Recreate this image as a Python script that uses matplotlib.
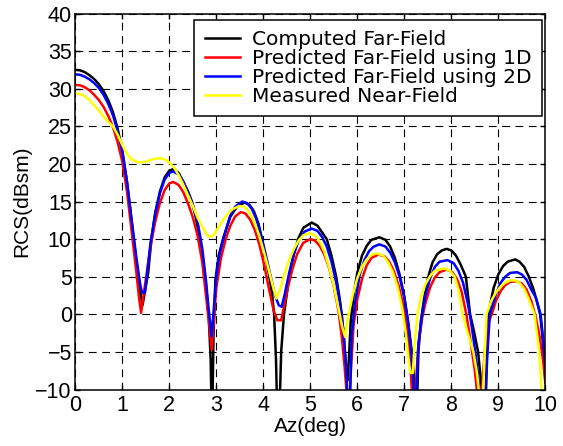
import matplotlib
matplotlib.use("Agg")
import matplotlib.pyplot as plt

plt.rcParams['font.family'] = ['Liberation Sans', 'DejaVu Sans']
plt.rcParams['font.size'] = 15

# ---------------- data ----------------
x_computed = [0, 0.1, 0.2, 0.3, 0.4, 0.5, 0.6, 0.7, 0.8, 0.9, 1.0, 1.1, 1.2, 1.3, 1.38, 1.43,
              1.48, 1.55, 1.62, 1.7, 1.8, 1.9, 2.0, 2.08, 2.2, 2.3, 2.4, 2.48, 2.56, 2.65, 2.72,
              2.78, 2.84, 2.88, 2.91, 2.94, 2.98, 3.05, 3.15, 3.3, 3.45, 3.6, 3.7, 3.8, 3.9, 3.97,
              4.05, 4.13, 4.19, 4.23, 4.27, 4.3, 4.34, 4.38, 4.44, 4.55, 4.65, 4.74, 4.85, 5.03,
              5.15, 5.25, 5.35, 5.45, 5.55, 5.62, 5.67, 5.72, 5.76, 5.79, 5.82, 5.86, 5.92, 6.0,
              6.1, 6.2, 6.3, 6.47, 6.6, 6.7, 6.8, 6.9, 7.0, 7.08, 7.15, 7.2, 7.26, 7.3, 7.35,
              7.42, 7.51, 7.6, 7.7, 7.8, 7.9, 8.0, 8.1, 8.2, 8.31, 8.4, 8.48, 8.57, 8.65, 8.7,
              8.74, 8.76, 8.8, 8.9, 9.0, 9.1, 9.2, 9.36, 9.45, 9.55, 9.65, 9.75, 9.83, 9.89,
              9.94, 9.98, 10.0]
y_computed = [32.5, 32.45, 32.2, 31.8, 31.3, 30.6, 29.7, 28.5, 26.9, 24.7, 21.8, 17.6, 12.3, 7.0,
              3.0, 1.2, 3.0, 5.5, 10.0, 13.5, 16.3, 18.2, 19.1, 19.3, 18.8, 17.6, 16.3, 15.0,
              13.0, 10.0, 7.0, 4.0, -0.5, -6.0, -16.0, -3.0, 4.5, 7.8, 10.2, 13.0, 14.4, 14.85,
              14.6, 13.7, 12.0, 10.0, 7.5, 5.0, 2.5, 0.0, -6.0, -14.0, -14.0, -5.0, 0.0, 5.0,
              8.0, 10.0, 11.5, 12.2, 11.8, 10.9, 10.0, 7.8, 5.0, 2.3, 0.0, -3.5, -7.0, -8.8,
              -6.0, -1.0, 2.5, 5.5, 7.8, 9.1, 9.9, 10.24, 9.9, 9.0, 7.5, 5.3, 2.3, -1.0, -4.5,
              -8.0, -15.0, -5.0, -1.0, 2.0, 5.0, 6.9, 8.0, 8.5, 8.7, 8.5, 7.8, 6.6, 5.0, 0.0,
              -2.2, -5.0, -10.0, -16.0, -10.0, -4.0, 0.5, 3.5, 5.3, 6.4, 7.0, 7.3, 7.0, 6.3,
              5.0, 3.3, 1.5, 0.0, -3.0, -6.5, -9.0]

x_pred1d = [0, 0.1, 0.2, 0.3, 0.4, 0.5, 0.6, 0.7, 0.8, 0.9, 1.0, 1.1, 1.2, 1.3, 1.36, 1.4, 1.45,
            1.52, 1.6, 1.7, 1.8, 1.9, 2.0, 2.08, 2.2, 2.3, 2.4, 2.5, 2.6, 2.7, 2.78, 2.85, 2.9,
            2.95, 3.0, 3.1, 3.2, 3.3, 3.4, 3.52, 3.62, 3.72, 3.82, 3.92, 4.02, 4.12, 4.22, 4.3,
            4.38, 4.44, 4.52, 4.62, 4.72, 4.85, 5.0, 5.1, 5.2, 5.3, 5.4, 5.5, 5.6, 5.67, 5.73,
            5.78, 5.82, 5.86, 5.92, 6.0, 6.1, 6.2, 6.3, 6.45, 6.58, 6.68, 6.78, 6.88, 6.98, 7.06,
            7.12, 7.17, 7.2, 7.25, 7.3, 7.38, 7.45, 7.55, 7.65, 7.75, 7.9, 8.02, 8.12, 8.22, 8.32,
            8.42, 8.5, 8.56, 8.6, 8.65, 8.72, 8.8, 8.86, 8.95, 9.05, 9.15, 9.25, 9.38, 9.5, 9.6,
            9.7, 9.8, 9.88, 9.95, 10.0]
y_pred1d = [30.5, 30.45, 30.2, 29.8, 29.2, 28.5, 27.6, 26.4, 24.9, 22.9, 20.3, 16.3, 11.0, 5.5,
            2.0, 0.2, 2.5, 5.5, 9.0, 12.3, 14.8, 16.5, 17.4, 17.6, 17.2, 16.2, 14.7, 12.9, 10.5,
            7.0, 2.5, -1.5, -4.7, -0.5, 3.5, 7.5, 10.0, 11.8, 13.0, 13.6, 13.4, 12.6, 11.2, 9.2,
            6.5, 3.4, 0.5, -0.8, -0.8, 1.0, 3.5, 6.0, 8.0, 9.5, 10.0, 9.8, 9.1, 7.9, 6.2, 3.7,
            0.5, -3.0, -7.0, -11.0, -14.0, -8.0, -1.5, 2.0, 4.7, 6.5, 7.5, 7.95, 7.7, 7.0, 5.7,
            3.8, 1.2, -2.0, -6.0, -11.0, -15.0, -9.0, -4.0, -0.5, 1.5, 3.6, 4.9, 5.6, 5.95, 5.6,
            4.7, 3.0, 0.0, -4.0, -7.5, -11.0, -15.0, -10.0, -4.5, -1.0, 0.0, 1.8, 3.1, 3.9, 4.3,
            4.4, 4.1, 3.3, 1.8, -0.5, -3.0, -6.0, -9.0]

x_pred2d = [0, 0.1, 0.2, 0.3, 0.4, 0.5, 0.6, 0.7, 0.8, 0.9, 1.0, 1.1, 1.2, 1.3, 1.38, 1.42, 1.48,
            1.53, 1.6, 1.7, 1.8, 1.9, 2.0, 2.08, 2.2, 2.3, 2.4, 2.5, 2.6, 2.7, 2.78, 2.84, 2.9,
            2.95, 3.0, 3.07, 3.15, 3.29, 3.4, 3.55, 3.65, 3.75, 3.85, 3.95, 4.05, 4.15, 4.25, 4.33,
            4.39, 4.45, 4.55, 4.65, 4.75, 4.88, 5.03, 5.15, 5.25, 5.35, 5.45, 5.55, 5.63, 5.7,
            5.76, 5.8, 5.84, 5.88, 5.95, 6.05, 6.15, 6.25, 6.35, 6.47, 6.6, 6.7, 6.8, 6.9, 7.0,
            7.08, 7.15, 7.2, 7.23, 7.26, 7.3, 7.38, 7.45, 7.55, 7.65, 7.75, 7.92, 8.05, 8.15, 8.25,
            8.35, 8.42, 8.5, 8.57, 8.62, 8.68, 8.73, 8.78, 8.82, 8.87, 8.95, 9.05, 9.15, 9.25, 9.4,
            9.5, 9.6, 9.7, 9.8, 9.9, 9.95, 10.0]
y_pred2d = [31.9, 31.85, 31.6, 31.25, 30.75, 30.1, 29.2, 28.0, 26.5, 24.4, 21.6, 17.6, 12.5, 7.5,
            4.0, 2.9, 2.9, 5.5, 9.5, 13.3, 16.1, 17.9, 18.8, 19.0, 18.6, 17.6, 16.2, 14.6, 12.4,
            8.8, 4.5, 0.5, -2.9, 1.0, 5.0, 8.0, 10.0, 13.0, 14.3, 15.0, 14.8, 14.1, 12.7, 10.6,
            8.0, 5.2, 2.5, 1.2, 1.0, 2.5, 5.5, 8.0, 9.8, 11.0, 11.4, 11.1, 10.3, 9.0, 7.0, 4.3,
            1.5, -2.0, -7.0, -12.0, -12.0, -3.0, 1.5, 5.2, 7.2, 8.4, 9.0, 9.3, 9.0, 8.2, 6.9, 5.0,
            2.3, -1.0, -5.0, -10.0, -14.0, -10.0, -4.0, 0.0, 2.5, 4.8, 6.3, 7.0, 7.2, 6.8, 5.8,
            4.2, 1.5, -1.0, -4.5, -8.0, -12.0, -14.0, -10.0, -4.0, 0.0, 1.0, 2.7, 4.2, 5.0, 5.5,
            5.6, 5.3, 4.6, 3.3, 2.2, 0.0, -3.0, -7.0]

x_measured = [0, 0.1, 0.2, 0.3, 0.4, 0.5, 0.6, 0.7, 0.8, 0.9, 1.0, 1.1, 1.2, 1.3, 1.4, 1.5, 1.6,
              1.7, 1.8, 1.9, 2.0, 2.1, 2.2, 2.3, 2.4, 2.5, 2.6, 2.7, 2.8, 2.87, 2.95, 3.05, 3.15,
              3.25, 3.35, 3.49, 3.6, 3.7, 3.8, 3.9, 4.0, 4.1, 4.2, 4.28, 4.35, 4.45, 4.55, 4.65,
              4.75, 4.85, 4.97, 5.1, 5.2, 5.3, 5.4, 5.5, 5.6, 5.68, 5.74, 5.8, 5.9, 6.0, 6.1, 6.2,
              6.3, 6.41, 6.55, 6.65, 6.75, 6.85, 6.95, 7.03, 7.1, 7.13, 7.18, 7.22, 7.28, 7.35,
              7.45, 7.55, 7.65, 7.85, 7.97, 8.07, 8.15, 8.24, 8.35, 8.47, 8.55, 8.6, 8.63, 8.67,
              8.72, 8.75, 8.85, 8.95, 9.05, 9.15, 9.25, 9.36, 9.45, 9.55, 9.65, 9.77, 9.87, 9.92,
              9.96]
y_measured = [29.4, 29.3, 29.0, 28.5, 27.8, 27.1, 26.3, 25.6, 25.0, 23.9, 22.5, 21.3, 20.6, 20.3,
              20.2, 20.3, 20.5, 20.7, 20.75, 20.6, 20.2, 19.5, 18.5, 17.2, 15.8, 14.4, 12.9, 11.6,
              10.6, 10.25, 10.6, 11.6, 12.6, 13.4, 14.0, 14.4, 14.3, 13.6, 12.4, 10.7, 8.6, 6.3,
              3.8, 2.1, 3.2, 5.3, 7.2, 8.7, 9.8, 10.5, 10.8, 10.5, 9.7, 8.3, 6.3, 3.8, 0.8, -1.7,
              -3.0, -0.5, 2.5, 4.8, 6.3, 7.3, 7.9, 8.1, 7.8, 7.0, 5.7, 3.8, 1.0, -2.5, -6.5, -7.8,
              -7.8, -4.0, 0.0, 2.2, 4.0, 5.1, 5.8, 6.1, 5.8, 5.0, 3.3, 0.0, -2.5, -5.0, -8.0,
              -11.0, -14.0, -11.0, -4.0, 0.0, 1.8, 2.9, 3.7, 4.2, 4.5, 4.5, 4.2, 3.4, 2.0, 0.0,
              -5.0, -10.0, -14.0]

series_labels = ["Computed Far-Field", "Predicted Far-Field using 1D",
                 "Predicted Far-Field using 2D", "Measured Near-Field"]
series_colors = ["#000000", "#ff0000", "#0000ff", "#ffff00"]
x_ticks = list(range(0, 11))
y_ticks = list(range(-10, 41, 5))

# ---------------- figure ----------------
fig = plt.figure(figsize=(5.63, 4.46), dpi=100)
ax = fig.add_axes([75.3 / 563, 1 - 389.5 / 446, 470 / 563, 376 / 446])

data = [(x_computed, y_computed), (x_pred1d, y_pred1d),
        (x_pred2d, y_pred2d), (x_measured, y_measured)]
for (xs, ys), lab, col in zip(data, series_labels, series_colors):
    ax.plot(xs, ys, color=col, lw=1.8, label=lab, solid_joinstyle='round')

ax.set_xlim(0, 10)
ax.set_ylim(-10, 40)
ax.set_xticks(x_ticks)
ax.set_yticks(y_ticks)
ax.grid(True, color='black', lw=0.8, linestyle=(0, (7, 5)))
ax.tick_params(direction='in', top=True, right=True, length=3.5, width=1,
               labelsize=15.5)
ax.tick_params(axis='x', pad=4)
ax.tick_params(axis='y', pad=2.5)
for s in ax.spines.values():
    s.set_linewidth(1.1)

ax.set_xlabel("Az(deg)", fontsize=15, labelpad=1)
ax.set_ylabel("RCS(dBsm)", fontsize=15, labelpad=3)

leg = ax.legend(loc='upper right', bbox_to_anchor=(0.992, 0.983), borderaxespad=0,
                fancybox=False, framealpha=1, edgecolor='black',
                prop={'family': ['DejaVu Sans'], 'size': 14.5},
                handlelength=1.75, handletextpad=0.6, labelspacing=0.0,
                borderpad=0.5)
leg.get_frame().set_linewidth(1.1)

fig.savefig("out.png", dpi=100)
